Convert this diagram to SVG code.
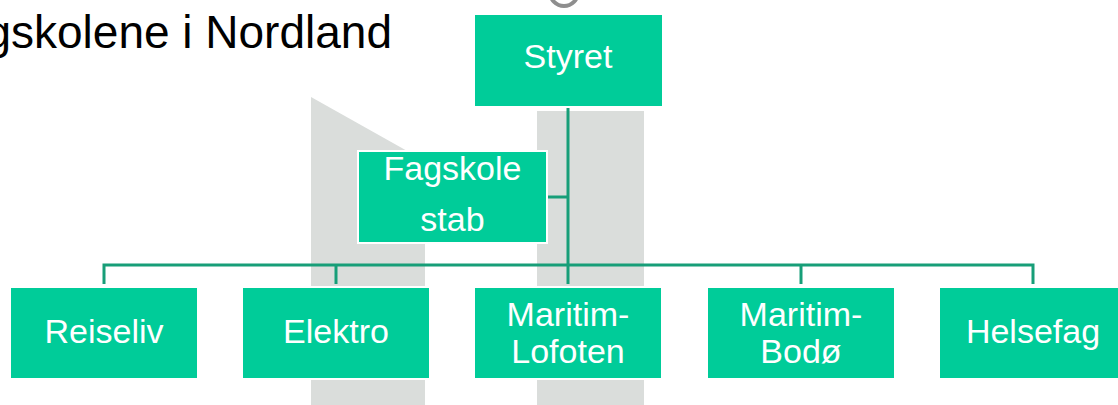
<svg xmlns="http://www.w3.org/2000/svg" width="1118" height="405" viewBox="0 0 1118 405">
<style>
.bg{fill:#dadddb}
.box{fill:#00cc99;stroke:#ffffff;stroke-width:2}
.lbl{font-family:"Liberation Sans",Arial,sans-serif;font-size:34px;fill:#ffffff;text-anchor:middle}
.con{stroke:#179e78;stroke-width:3;fill:none}
</style>
<rect width="1118" height="405" fill="#ffffff"/>
<g id="background">
<polygon class="bg" points="311,97 425,161 425,405 311,405"/>
<rect class="bg" x="537" y="111" width="107" height="294"/>
<circle cx="564" cy="-8" r="14" fill="none" stroke="#8e8e8e" stroke-width="4"/>
</g>
<text x="392" y="48" font-family="'Liberation Sans',Arial,sans-serif" font-size="46" fill="#000000" text-anchor="end">gskolene i Nordland</text>
<g id="connectors">
<line class="con" x1="568" y1="107" x2="568" y2="265"/>
<line class="con" x1="547" y1="197" x2="568" y2="197"/>
<polyline class="con" points="104,284 104,265 1033,265 1033,284"/>
<line class="con" x1="336" y1="265" x2="336" y2="284"/>
<line class="con" x1="568" y1="265" x2="568" y2="284"/>
<line class="con" x1="801" y1="265" x2="801" y2="284"/>
</g>
<g id="styret">
<rect class="box" x="474" y="14" width="189" height="93"/>
<text class="lbl" x="568" y="68">Styret</text>
</g>
<g id="fagskole-stab">
<rect class="box" x="358" y="151" width="189" height="92" stroke-width="3"/>
<text class="lbl" x="452.5" y="180">Fagskole</text>
<text class="lbl" x="452.5" y="231">stab</text>
</g>
<g id="reiseliv">
<rect class="box" x="10" y="287" width="188" height="92"/>
<text class="lbl" x="104" y="343">Reiseliv</text>
</g>
<g id="elektro">
<rect class="box" x="242" y="287" width="188" height="92"/>
<text class="lbl" x="336" y="343">Elektro</text>
</g>
<g id="maritim-lofoten">
<rect class="box" x="474" y="287" width="188" height="92"/>
<text class="lbl" x="568" y="326">Maritim-</text>
<text class="lbl" x="568" y="363">Lofoten</text>
</g>
<g id="maritim-bodo">
<rect class="box" x="707" y="287" width="188" height="92"/>
<text class="lbl" x="801" y="326">Maritim-</text>
<text class="lbl" x="801" y="363">Bodø</text>
</g>
<g id="helsefag">
<rect class="box" x="939" y="287" width="188" height="92"/>
<text class="lbl" x="1033" y="343">Helsefag</text>
</g>
</svg>
